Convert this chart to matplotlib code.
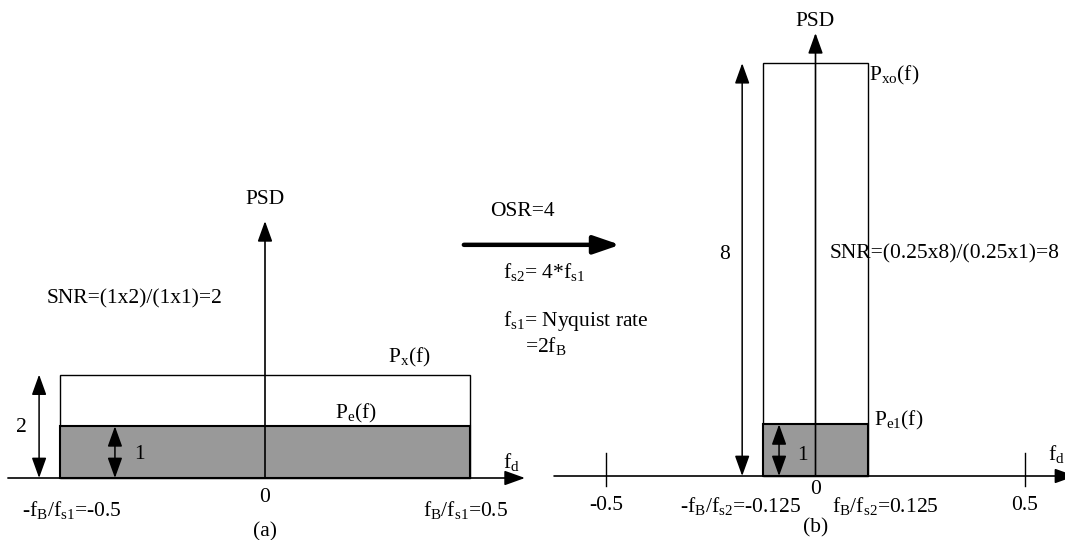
import matplotlib
matplotlib.use("Agg")
import matplotlib.pyplot as plt
from matplotlib.patches import Rectangle

plt.rcParams['font.family'] = ['Liberation Serif', 'DejaVu Serif']
plt.rcParams['mathtext.fontset'] = 'custom'
plt.rcParams['mathtext.rm'] = 'Liberation Serif'
plt.rcParams['mathtext.it'] = 'Liberation Serif'
plt.rcParams['mathtext.default'] = 'rm'

# ---- data ----
band_a = [-0.5, 0.5]        # normalised band, Nyquist sampling
signal_a = 2                # P_x(f) level
noise_a = 1                 # P_e(f) level
band_b = [-0.125, 0.125]    # band after OSR=4
signal_b = 8                # P_xo(f) level
noise_b = 1                 # P_e1(f) level
ticks_b = [-0.5, 0.5]
tick_labels_b = ['-0.5', '0.5']

GRAY = '#999999'
FS = 15.5
W, H = 1065, 540
fig = plt.figure(figsize=(W / 100, H / 100), dpi=100)

# panel (a): axes spanning full figure, 410 px per unit in x, 51.7 px/unit in y
cxa, bya, sxa, sya = 265, 478, 410, 51.7
axa = fig.add_axes([0, 0, 1, 1])
axa.set_xlim(-cxa / sxa, (W - cxa) / sxa)
axa.set_ylim(-(H - bya) / sya, bya / sya)
axa.axis('off')

# panel (b)
cxb, byb, sxb, syb = 815.5, 476, 419, 51.6
axb = fig.add_axes([0, 0, 1, 1])
axb.set_xlim(-cxb / sxb, (W - cxb) / sxb)
axb.set_ylim(-(H - byb) / syb, byb / syb)
axb.axis('off')
axb.patch.set_alpha(0)


def arrow(ax, x0, y0, x1, y1, style='-|>', lw=1.1, hl=1.25, hw=0.45, ms=10):
    ax.annotate('', xy=(x1, y1), xytext=(x0, y0),
                arrowprops=dict(arrowstyle=f'{style},head_length={hl},head_width={hw}',
                                lw=lw, color='black', shrinkA=0, shrinkB=0,
                                mutation_scale=ms),
                annotation_clip=False)


def panel(ax, band, sig, noise, xaxis, psd_top, psd_lab_y):
    w = band[1] - band[0]
    ax.add_patch(Rectangle((band[0], 0), w, sig, facecolor='white',
                           edgecolor='black', lw=1.0, zorder=1))
    ax.add_patch(Rectangle((band[0], 0), w, noise, facecolor=GRAY,
                           edgecolor='black', lw=1.5, zorder=2))
    # axes
    arrow(ax, xaxis[0], 0, xaxis[1], 0, lw=1.2)
    arrow(ax, 0, 0, 0, psd_top, lw=1.2)
    ax.text(0, psd_lab_y, 'PSD', ha='center', va='center', fontsize=FS)


# ---------- panel (a) ----------
panel(axa, band_a, signal_a, noise_a, (-0.627, 0.634), 4.97, 5.38)
arrow(axa, -0.551, 0, -0.551, signal_a, style='<|-|>')
arrow(axa, -0.366, 0, -0.366, noise_a, style='<|-|>')
axa.text(-0.593, 0.97, '2', ha='center', va='center', fontsize=FS)
axa.text(-0.305, 0.445, '1', ha='center', va='center', fontsize=FS)
axa.text(-0.532, 3.46, 'SNR=(1x2)/(1x1)=2', ha='left', va='center', fontsize=FS)
axa.text(0.30, 2.34, r'P$_{x}$(f)', ha='left', va='center', fontsize=FS)
axa.text(0.171, 1.24, r'P$_{e}$(f)', ha='left', va='center', fontsize=FS)
axa.text(0.580, 0.30, r'f$_{d}$', ha='left', va='center', fontsize=FS)
axa.text(0, -0.37, '0', ha='center', va='center', fontsize=FS)
axa.text(-0.593, -0.62, r'-f$_{B}$/f$_{s1}$=-0.5', ha='left', va='center', fontsize=FS)
axa.text(0.593, -0.62, r'f$_{B}$/f$_{s1}$=0.5', ha='right', va='center', fontsize=FS)
axa.text(0, -1.04, '(a)', ha='center', va='center', fontsize=FS)

# middle annotation
axa.text(0.549, 5.16, 'OSR=4', ha='left', va='center', fontsize=FS)
arrow(axa, 0.485, 4.51, 0.866, 4.51, lw=3.2, hl=1.6, hw=0.55, ms=10)
axa.text(0.580, 3.98, r'f$_{s2}$= 4*f$_{s1}$', ha='left', va='center', fontsize=FS)
axa.text(0.580, 3.04, r'f$_{s1}$= Nyquist rate', ha='left', va='center', fontsize=FS)
axa.text(0.634, 2.55, r'=2f$_{B}$', ha='left', va='center', fontsize=FS)

# ---------- panel (b) ----------
panel(axb, band_b, signal_b, noise_b, (-0.624, 0.62), 8.585, 8.80)
arrow(axb, -0.175, 0, -0.175, signal_b, style='<|-|>')
arrow(axb, -0.087, 0, -0.087, noise_b, style='<|-|>')
axb.text(-0.216, 4.30, '8', ha='center', va='center', fontsize=FS)
axb.text(-0.030, 0.39, '1', ha='center', va='center', fontsize=FS)
axb.text(0.0346, 4.30, 'SNR=(0.25x8)/(0.25x1)=8', ha='left', va='center', fontsize=FS)
axb.text(0.128, 7.77, r'P$_{xo}$(f)', ha='left', va='center', fontsize=FS)
axb.text(0.140, 1.085, r'P$_{e1}$(f)', ha='left', va='center', fontsize=FS)
axb.text(0.555, 0.43, r'f$_{d}$', ha='left', va='center', fontsize=FS)
for t, lab in zip(ticks_b, tick_labels_b):
    axb.plot([t, t], [-0.194, 0.446], color='black', lw=1.0)
    axb.text(t, -0.58, lab, ha='center', va='center', fontsize=FS)
axb.text(0, -0.27, '0', ha='center', va='center', fontsize=FS)
axb.text(-0.035, -0.58, r'-f$_{B}$/f$_{s2}$=-0.125', ha='right', va='center', fontsize=FS)
axb.text(0.039, -0.58, r'f$_{B}$/f$_{s2}$=0.125', ha='left', va='center', fontsize=FS)
axb.text(0, -1.01, '(b)', ha='center', va='center', fontsize=FS)

fig.savefig('out.png', dpi=100, facecolor='white')
